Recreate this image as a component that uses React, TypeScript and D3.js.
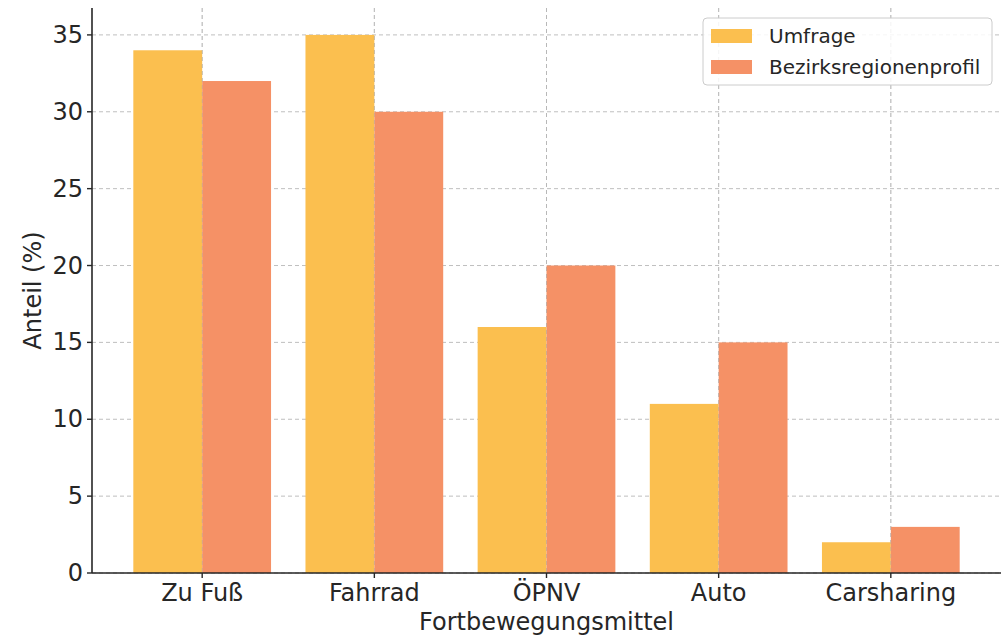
import React from "react";
import * as d3 from "d3";

const categories = ["Zu Fuß", "Fahrrad", "ÖPNV", "Auto", "Carsharing"];
const umfrage = [34, 35, 16, 11, 2];
const bezirk = [32, 30, 20, 15, 3];
const seriesNames = ["Umfrage", "Bezirksregionenprofil"];
const yTicks = [0, 5, 10, 15, 20, 25, 30, 35];

const W = 1004, H = 638;
const left = 92, right = 1001, top = 8, bottom = 573;
const colors = ["#FBBF4F", "#F59166"];
const font = "DejaVu Sans, sans-serif";
const textColor = "#262626";

export default function App() {
  const x = d3.scaleLinear().domain([-0.64, categories.length - 1 + 0.64]).range([left, right]);
  const y = d3.scaleLinear().domain([0, 36.75]).range([bottom, top]);
  const bw = 0.4;
  const series = [umfrage, bezirk];
  return (
    <svg width={W} height={H} style={{ position: "absolute", left: 0, top: 0, background: "#fff" }}>
      {/* grid */}
      {yTicks.map((t) => (
        <line key={"gy" + t} x1={left} x2={right} y1={y(t)} y2={y(t)} stroke="#b0b0b0" strokeWidth={1} strokeDasharray="4,3" opacity={0.8} />
      ))}
      {categories.map((c, i) => (
        <line key={"gx" + i} x1={x(i)} x2={x(i)} y1={top} y2={bottom} stroke="#b0b0b0" strokeWidth={1} strokeDasharray="4,3" opacity={0.8} />
      ))}
      {/* bars */}
      {series.map((s, si) =>
        s.map((v, i) => {
          const x0 = x(i - bw + si * bw);
          const x1 = x(i + si * bw);
          return <rect key={si + "-" + i} x={x0} y={y(v)} width={x1 - x0} height={y(0) - y(v)} fill={colors[si]} />;
        })
      )}
      {/* vertical grid over bars faintly */}
      {categories.map((c, i) => (
        <line key={"gx2" + i} x1={x(i)} x2={x(i)} y1={top} y2={bottom} stroke="#b0b0b0" strokeWidth={0.8} strokeDasharray="4,3" opacity={0.5} />
      ))}
      {/* axes */}
      <line x1={left} x2={left} y1={top} y2={bottom} stroke={textColor} strokeWidth={1.6} />
      <line x1={left} x2={right} y1={bottom} y2={bottom} stroke={textColor} strokeWidth={1.6} />
      {yTicks.map((t) => (
        <g key={"yt" + t}>
          <line x1={left - 5} x2={left} y1={y(t)} y2={y(t)} stroke={textColor} strokeWidth={1.4} />
          <text x={left - 9} y={y(t)} textAnchor="end" dominantBaseline="central" fontFamily={font} fontSize={24} fill={textColor}>{t}</text>
        </g>
      ))}
      {categories.map((c, i) => (
        <g key={"xt" + i}>
          <line x1={x(i)} x2={x(i)} y1={bottom} y2={bottom + 5} stroke={textColor} strokeWidth={1.4} />
          <text x={x(i)} y={bottom + 20} textAnchor="middle" dominantBaseline="central" fontFamily={font} fontSize={24} fill={textColor}>{c}</text>
        </g>
      ))}
      <text x={(left + right) / 2} y={622} textAnchor="middle" dominantBaseline="central" fontFamily={font} fontSize={24} fill={textColor}>Fortbewegungsmittel</text>
      <text transform={`translate(33, ${(top + bottom) / 2}) rotate(-90)`} textAnchor="middle" dominantBaseline="central" fontFamily={font} fontSize={24} fill={textColor}>Anteil (%)</text>
      {/* legend */}
      <rect x={703} y={18} width={289} height={67} rx={4} fill="#fff" fillOpacity={0.85} stroke="#cccccc" strokeWidth={1} />
      {seriesNames.map((n, i) => (
        <g key={"lg" + i}>
          <rect x={711} y={29 + i * 31} width={41} height={14} fill={colors[i]} />
          <text x={769} y={36 + i * 31} dominantBaseline="central" fontFamily={font} fontSize={20} fill={textColor}>{n}</text>
        </g>
      ))}
    </svg>
  );
}
